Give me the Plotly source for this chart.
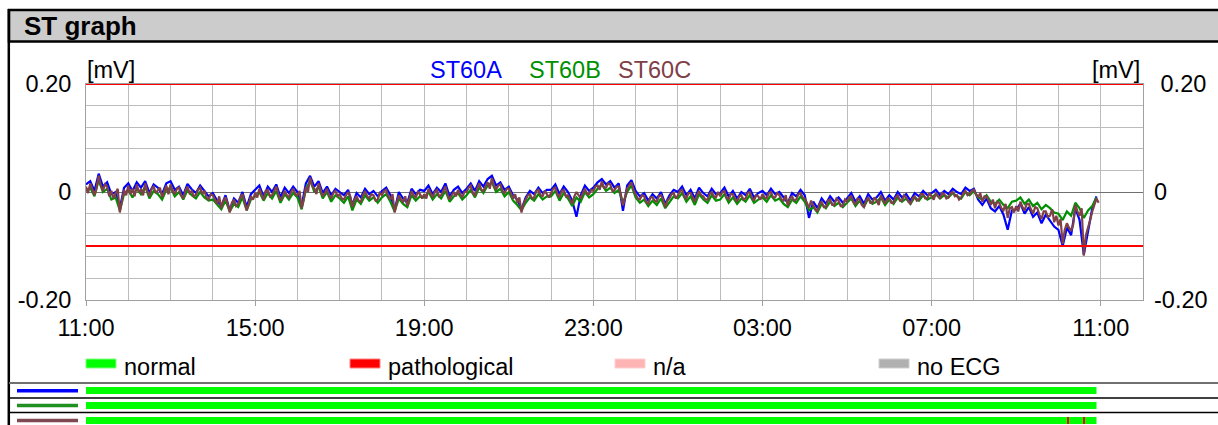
import plotly.graph_objects as go

W, H = 1218, 425
FONT = "Liberation Sans, Arial, sans-serif"

# ---------------- data ----------------
# sample times: hours after 11:00
STEP_AB = 0.1    # ST60A / ST60B sampled every 6 min
STEP_C = 0.05    # ST60C sampled every 3 min
HOURS_AB = [round(i * STEP_AB, 3) for i in range(240)]
HOURS_C = [round(i * STEP_C, 3) for i in range(480)]

TICK_HOURS = [0, 4, 8, 12, 16, 20, 24]
TICK_LABELS = ["11:00", "15:00", "19:00", "23:00", "03:00", "07:00", "11:00"]

Y_TICKS = [-0.2, 0, 0.2]
Y_TICK_LABELS = ["-0.20", "0", "0.20"]
THRESHOLDS_MV = [0.2, -0.1]

# ST level, microvolts
ST60A_uV = [
    14, 20, 2, 34, 10, 18, -4, 0, -30, 8,
    16, 2, 18, 8, 20, -2, 14, 8, -4, 16,
    20, 4, 10, -6, 15, 5, -2, 12, 2, -8,
    -2, -16, -26, -6, -34, -12, -20, 0, -28, -4,
    4, 12, -8, 10, 0, 14, -10, 8, -2, 10,
    0, -26, 16, 30, 10, 20, -2, 10, -6, 6,
    0, -6, 4, -24, -2, -10, 6, -4, 2, -8,
    2, 8, -6, -34, 0, -12, -20, 6, -4, 4,
    2, 12, -4, 8, 0, 16, -8, 4, 10, -2,
    6, 16, 2, 20, 10, 24, 30, 12, 18, 4,
    10, -6, -14, -32, -10, 2, -4, 8, -2, 4,
    4, 14, -4, 10, 0, -16, -46, -6, 12, 2,
    8, 18, 24, 14, 20, 8, 16, -35, 12, 22,
    2, -8, -2, -16, -4, -12, 0, -22, -6, 4,
    0, 10, -6, 4, -12, 8, -2, -8, 6, -4,
    -2, 8, -8, 2, -12, 0, -6, 6, -10, -2,
    2, -6, 6, -4, 0, -10, -20, -2, -8, 4,
    -6, -48, -18, -30, -12, -22, -8, -18, -10, -20,
    -12, -2, -18, -8, -22, -4, -14, -10, 0, -16,
    -6, -14, 0, -10, -4, -16, -2, -8, 2, -6,
    -2, 4, -6, 2, -4, 6, 0, -4, 8, 2,
    6, -14, -24, -12, -30, -36, -26, -42, -70, -34,
    -32, -22, -40, -28, -46, -38, -58, -42, -52, -64,
    -70, -100, -66, -80, -30, -52, -116, -74, -30, -8,
]
ST60B_uV = [
    2, 8, -8, 22, 0, 6, -14, -10, -34, -4,
    4, -10, 6, -4, 10, -12, 2, -4, -14, 4,
    8, -8, 0, -14, 3, -6, -12, 0, -10, -16,
    -14, -24, -32, -16, -36, -22, -28, -10, -34, -14,
    -8, 0, -16, -2, -12, 2, -20, -4, -14, -2,
    -10, -32, 4, 22, 0, 10, -12, 0, -18, -6,
    -12, -20, -8, -34, -14, -22, -6, -16, -10, -20,
    -10, -4, -18, -36, -12, -22, -28, -6, -16, -8,
    -10, 0, -14, -4, -12, 2, -18, -8, -2, -14,
    -6, 4, -10, 8, -2, 12, 18, 0, 6, -8,
    0, -16, -24, -34, -20, -10, -16, -4, -14, -8,
    -8, 2, -16, -2, -12, -26, -10, -18, 0, -10,
    -4, 6, 14, 2, 8, -2, 4, -20, 0, 12,
    -10, -20, -14, -26, -16, -24, -12, -30, -18, -8,
    -12, -2, -18, -8, -24, -4, -14, -20, -6, -16,
    -14, -4, -20, -10, -22, -12, -18, -6, -20, -14,
    -10, -18, -6, -16, -12, -22, -28, -14, -20, -8,
    -18, -34, -28, -38, -22, -30, -18, -26, -20, -28,
    -20, -12, -26, -16, -28, -12, -22, -18, -10, -24,
    -14, -22, -10, -18, -12, -22, -10, -16, -6, -14,
    -10, -4, -12, -6, -10, -2, -8, -12, 0, -6,
    2, -10, -14, -6, -18, -22, -14, -24, -30, -18,
    -16, -10, -22, -14, -26, -20, -32, -24, -30, -38,
    -40, -52, -36, -44, -20, -30, -48, -34, -26, -10,
]
ST60C_uV = [
    10, -2, 16, 4, -6, 8, 30, 12, 2, 14, 10, -8, 2, -12, -4, 6, -38, -20, 4, -6,
    12, -4, 6, -8, 14, 0, 4, -6, 16, 2, -8, 6, 10, -2, 4, 8, -10, 2, 12, -4,
    14, 2, -4, 6, 8, -6, -12, 2, 10, -2, 2, -8, -6, 4, 8, -4, 2, -10, -14, -4,
    -6, -14, -22, -8, -30, -16, -10, -22, -38, -20, -14, -26, -22, -10, -4, -18, -34, -22, -8, -14,
    -2, -10, 6, -4, -14, 2, 4, -8, -6, 2, 10, -4, -16, -8, 2, -6, -10, 0, 6, -4,
    -6, 2, -30, -14, 10, 0, 27, 12, 6, -4, 16, 4, -8, -2, 6, -6, -12, -2, 2, -8,
    -4, -12, -14, -6, 0, -8, -28, -14, -8, -16, -18, -6, 2, -8, -12, -4, -6, -16, -14, -2,
    -6, 2, 4, -8, -14, -4, -38, -20, -6, -14, -18, -8, -26, -12, 2, -6, -10, 0, -4, -12,
    -4, -12, 6, -2, -10, 0, 4, -8, -6, 2, 10, -4, -14, -6, 0, -8, 4, -4, -10, 0,
    0, 8, 12, -2, -6, 6, 16, 4, 2, 10, 18, 6, 26, 12, 4, 12, 14, 2, -2, 6,
    6, -2, -12, -4, -20, -10, -38, -22, -14, -6, -4, -12, -10, 2, 4, -6, -8, 2, -4, -10,
    -2, 6, 8, -4, -10, 2, 4, -8, -6, -14, -22, -8, 0, -6, -12, -2, 6, -4, -4, 4,
    2, 10, 12, 4, 20, 8, 8, 16, 14, 2, 3, 10, 10, -4, -25, -10, 6, 12, 18, 4,
    -4, -12, -14, -6, -8, -18, -22, -10, -10, -16, -18, -8, -6, -14, -28, -16, -12, -4, -2, -12,
    -6, 2, 4, -8, -12, -2, -2, -10, -18, -6, 2, -6, -8, -14, -14, -4, 0, -8, -10, 0,
    -8, 0, 2, -10, -14, -4, -4, -12, -18, -8, -6, -14, -12, -2, 0, -10, -16, -6, -8, -14,
    -4, -10, -12, -2, 0, -10, -10, -2, -6, -14, -16, -6, -26, -12, -8, -16, -14, -4, -2, -10,
    -12, -20, -30, -16, -24, -32, -36, -22, -18, -28, -28, -16, -14, -24, -24, -12, -16, -26, -26, -14,
    -18, -10, -8, -18, -24, -12, -14, -24, -28, -16, -10, -20, -20, -10, -16, -24, -6, -14, -22, -12,
    -12, -20, -20, -10, -6, -16, -16, -6, -10, -18, -22, -12, -8, -16, -14, -4, -4, -12, -12, -2,
    -8, -14, -2, -8, -12, -2, -4, -12, -10, -2, 0, -8, -6, -14, -10, -2, 2, -6, -4, 2,
    4, -4, -10, -2, -18, -8, -8, -16, -24, -14, -30, -18, -20, -30, -34, -22, -48, -30, -28, -38,
    -26, -36, -18, -28, -34, -22, -22, -32, -40, -28, -30, -42, -50, -36, -36, -46, -44, -32, -56, -44,
    -62, -50, -96, -70, -58, -66, -72, -60, -24, -36, -44, -30, -118, -80, -68, -52, -36, -24, -12, -20,
]

SERIES_NAMES = ["ST60A", "ST60B", "ST60C"]
SERIES_COLORS = ["#0000ff", "#009000", "#804048"]
SERIES_HOURS = [HOURS_AB, HOURS_AB, HOURS_C]
SERIES_VALUES = [ST60A_uV, ST60B_uV, ST60C_uV]

# ST classification strips (row = lead, start/end in hours after 11:00)
SEG_ROW = [0, 1, 2, 2, 2]
SEG_START = [0.0, 0.0, 0.0, 23.22, 23.60]
SEG_END = [23.9, 23.9, 23.9, 23.24, 23.62]
SEG_STATUS = ["normal", "normal", "normal", "pathological", "pathological"]

STATUS_NAMES = ["normal", "pathological", "n/a", "no ECG"]
STATUS_COLORS = ["#00ff00", "#ff0000", "#ffb4b4", "#b0b0b0"]
STATUS_EDGE = ["#80ff80", "#ff8080", "#ffd0d0", "#cfcfcf"]
STRIP_COLORS = ["#0000ff", "#209020", "#804850"]


def px(x):
    return x / W


def py(y):
    return 1 - y / H


fig = go.Figure()

for name, color, hrs, vals in zip(SERIES_NAMES, SERIES_COLORS, SERIES_HOURS, SERIES_VALUES):
    fig.add_trace(go.Scatter(
        x=hrs, y=[v / 1000 for v in vals], mode="lines", name=name,
        line=dict(color=color, width=2.2), xaxis="x", yaxis="y",
        showlegend=False, hoverinfo="skip"))

status_color = dict(zip(STATUS_NAMES, STATUS_COLORS))
for r, s, e, st in zip(SEG_ROW, SEG_START, SEG_END, SEG_STATUS):
    fig.add_trace(go.Bar(
        orientation="h", y=[r], x=[e - s], base=[s], width=0.47,
        marker=dict(color=status_color[st], line=dict(width=0)),
        xaxis="x2", yaxis="y2", showlegend=False, hoverinfo="skip"))

GRID = "#bcbcbc"
AXLINE = "#a0a0a0"
tickfont = dict(family=FONT, size=23.5, color="black")

fig.update_layout(
    template="none",
    width=W, height=H,
    margin=dict(l=0, r=0, t=0, b=0, autoexpand=False),
    paper_bgcolor="white", plot_bgcolor="white",
    barmode="overlay",
    font=dict(family=FONT, color="black"),
    xaxis=dict(
        domain=[px(86), px(1143)], range=[0, 25], anchor="y", automargin=False,
        tickmode="array", tickvals=TICK_HOURS, ticktext=TICK_LABELS,
        ticks="outside", ticklen=5, tickcolor=AXLINE, tickwidth=1,
        showgrid=True, gridcolor=GRID, gridwidth=1,
        minor=dict(tickmode="linear", tick0=0, dtick=1, showgrid=True,
                   gridcolor=GRID, gridwidth=1, ticks=""),
        showline=True, linecolor=AXLINE, linewidth=1, mirror=True,
        zeroline=False, tickfont=tickfont, ticklabelstandoff=2),
    yaxis=dict(
        domain=[py(300), py(84)], range=[-0.2, 0.2], anchor="x", automargin=False,
        tickmode="array", tickvals=Y_TICKS, ticktext=Y_TICK_LABELS,
        ticks="", showgrid=True, gridcolor=GRID, gridwidth=1,
        minor=dict(tickmode="linear", tick0=0, dtick=0.04, showgrid=True,
                   gridcolor=GRID, gridwidth=1, ticks=""),
        zeroline=True, zerolinecolor="#707070", zerolinewidth=1,
        showline=True, linecolor=AXLINE, linewidth=1, mirror=True,
        tickfont=tickfont, ticklabelstandoff=9),
    yaxis3=dict(
        overlaying="y", side="right", anchor="x", range=[-0.2, 0.2],
        automargin=False,
        tickmode="array", tickvals=Y_TICKS,
        ticktext=["-0.20", "0", " 0.20"],
        ticks="", showgrid=False, zeroline=False, showline=False,
        tickfont=tickfont, ticklabelstandoff=10),
    xaxis2=dict(domain=[px(86), px(1143)], matches="x", anchor="y2",
                visible=False, automargin=False),
    yaxis2=dict(domain=[0, py(383)], range=[2.3, -0.5], anchor="x2",
                visible=False, automargin=False),
)

# invisible helper so the right axis is drawn
fig.add_trace(go.Scatter(x=[None], y=[None], yaxis="y3", xaxis="x",
                         showlegend=False, hoverinfo="skip"))

for thr in THRESHOLDS_MV:
    fig.add_hline(y=thr, line=dict(color="#ff0000", width=2))

shapes = []
# title bar and frame
shapes.append(dict(type="rect", xref="paper", yref="paper",
                   x0=px(9), x1=px(W + 10), y0=py(41.5), y1=py(10),
                   fillcolor="#cccccc", line=dict(color="black", width=2.5)))
shapes.append(dict(type="line", xref="paper", yref="paper",
                   x0=px(8.8), x1=px(8.8), y0=py(9), y1=py(H + 5),
                   line=dict(color="black", width=2.5)))
# strip separators
for yy, col, wd in [(383, "#707070", 2), (398, "black", 1.5), (412.5, "black", 1.5)]:
    shapes.append(dict(type="line", xref="paper", yref="paper",
                       x0=px(9), x1=px(W + 5), y0=py(yy), y1=py(yy),
                       line=dict(color=col, width=wd)))
# lead swatches left of strips
for yy, col in zip([390.7, 405.5, 420.5], STRIP_COLORS):
    shapes.append(dict(type="line", xref="paper", yref="paper",
                       x0=px(17), x1=px(78), y0=py(yy), y1=py(yy),
                       line=dict(color=col, width=3.5)))
# status legend swatches
LEG_X = [86, 350, 615, 879]
for x0, col, edge in zip(LEG_X, STATUS_COLORS, STATUS_EDGE):
    shapes.append(dict(type="rect", xref="paper", yref="paper",
                       x0=px(x0), x1=px(x0 + 30), y0=py(368), y1=py(359),
                       fillcolor=col, line=dict(color=edge, width=1)))
fig.update_layout(shapes=list(fig.layout.shapes) + shapes)

ann = []
ann.append(dict(text="<b>ST graph</b>", x=px(22), y=py(26), xref="paper",
                yref="paper", xanchor="left", yanchor="middle",
                showarrow=False, font=dict(family=FONT, size=26, color="black")))
ann.append(dict(text="[mV]", x=px(85), y=py(70), xref="paper", yref="paper",
                xanchor="left", yanchor="middle", showarrow=False,
                font=dict(family=FONT, size=23.5, color="black")))
ann.append(dict(text="[mV]", x=px(1142), y=py(70), xref="paper", yref="paper",
                xanchor="right", yanchor="middle", showarrow=False,
                font=dict(family=FONT, size=23.5, color="black")))
for name, col, cx in zip(SERIES_NAMES, SERIES_COLORS, [466, 565, 654]):
    ann.append(dict(text=name, x=px(cx), y=py(70), xref="paper", yref="paper",
                    xanchor="center", yanchor="middle", showarrow=False,
                    font=dict(family=FONT, size=23.5, color=col)))
for name, x0 in zip(STATUS_NAMES, LEG_X):
    ann.append(dict(text=name, x=px(x0 + 36), y=py(367), xref="paper",
                    yref="paper", xanchor="left", yanchor="middle",
                    showarrow=False,
                    font=dict(family=FONT, size=23.5, color="black")))
fig.update_layout(annotations=ann)

fig.write_html(
    "out.html",
    config={"displayModeBar": False},
    post_script="document.body.style.margin='0px';document.body.style.padding='0px';",
)
